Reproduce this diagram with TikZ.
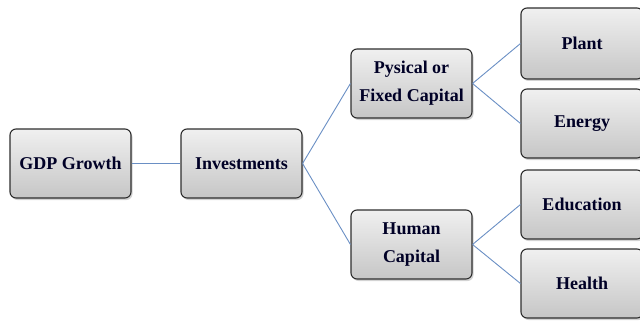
\documentclass[tikz,border=0pt]{standalone}
\usepackage{fontspec}
\setmainfont{Liberation Serif}
\usetikzlibrary{shadows}
\usetikzlibrary{calc}

\definecolor{linkblue}{HTML}{6A8FC4}
\definecolor{boxtop}{HTML}{F0F0F0}
\definecolor{boxbot}{HTML}{C6C6C6}
\definecolor{boxline}{HTML}{2E2E2E}

\tikzset{
    factor/.style={draw=boxline, line width=1.1pt, rounded corners=6pt,
        top color=boxtop, bottom color=boxbot,
        drop shadow={shadow xshift=1.5pt, shadow yshift=-2pt, opacity=0.35},
        minimum width=121pt, minimum height=69pt, align=center,
        font=\fontsize{18}{28}\selectfont\bfseries, text=black!85!blue,
        inner sep=0pt},
    link/.style={draw=linkblue, line width=0.9pt}
}

\begin{document}
\begin{tikzpicture}[x=1pt, y=-1pt]
    % Wachstum durch Investitionen
    \useasboundingbox (0,0) rectangle (640,321);
    \clip (0,0) rectangle (640,321);
    \def\wr{122}

    \node[factor] (gdp) at (70.5, 163.5) {GDP Growth};
    \node[factor] (inv) at (241.5, 163.5) {Investments};
    \node[factor] (phys) at (411.5, 83.5) {Pysical or\\Fixed Capital};
    \node[factor] (human) at (411.5, 244.5) {Human\\Capital};

    \node[factor, minimum width=\wr, minimum height=71pt] (plant) at (582, 43.5) {Plant};
    \node[factor, minimum width=\wr] (energy) at (582, 123.5) {Energy};
    \node[factor, minimum width=\wr] (edu) at (582, 204.5) {Education};
    \node[factor, minimum width=\wr] (health) at (582, 283.5) {Health};

    \draw[link] (gdp.east) -- (inv.west);
    \draw[link] (inv.east) -- (phys.west);
    \draw[link] (inv.east) -- (human.west);
    \draw[link] (phys.east) -- (plant.west);
    \draw[link] (phys.east) -- (energy.west);
    \draw[link] (human.east) -- (edu.west);
    \draw[link] (human.east) -- (health.west);
\end{tikzpicture}
\end{document}
